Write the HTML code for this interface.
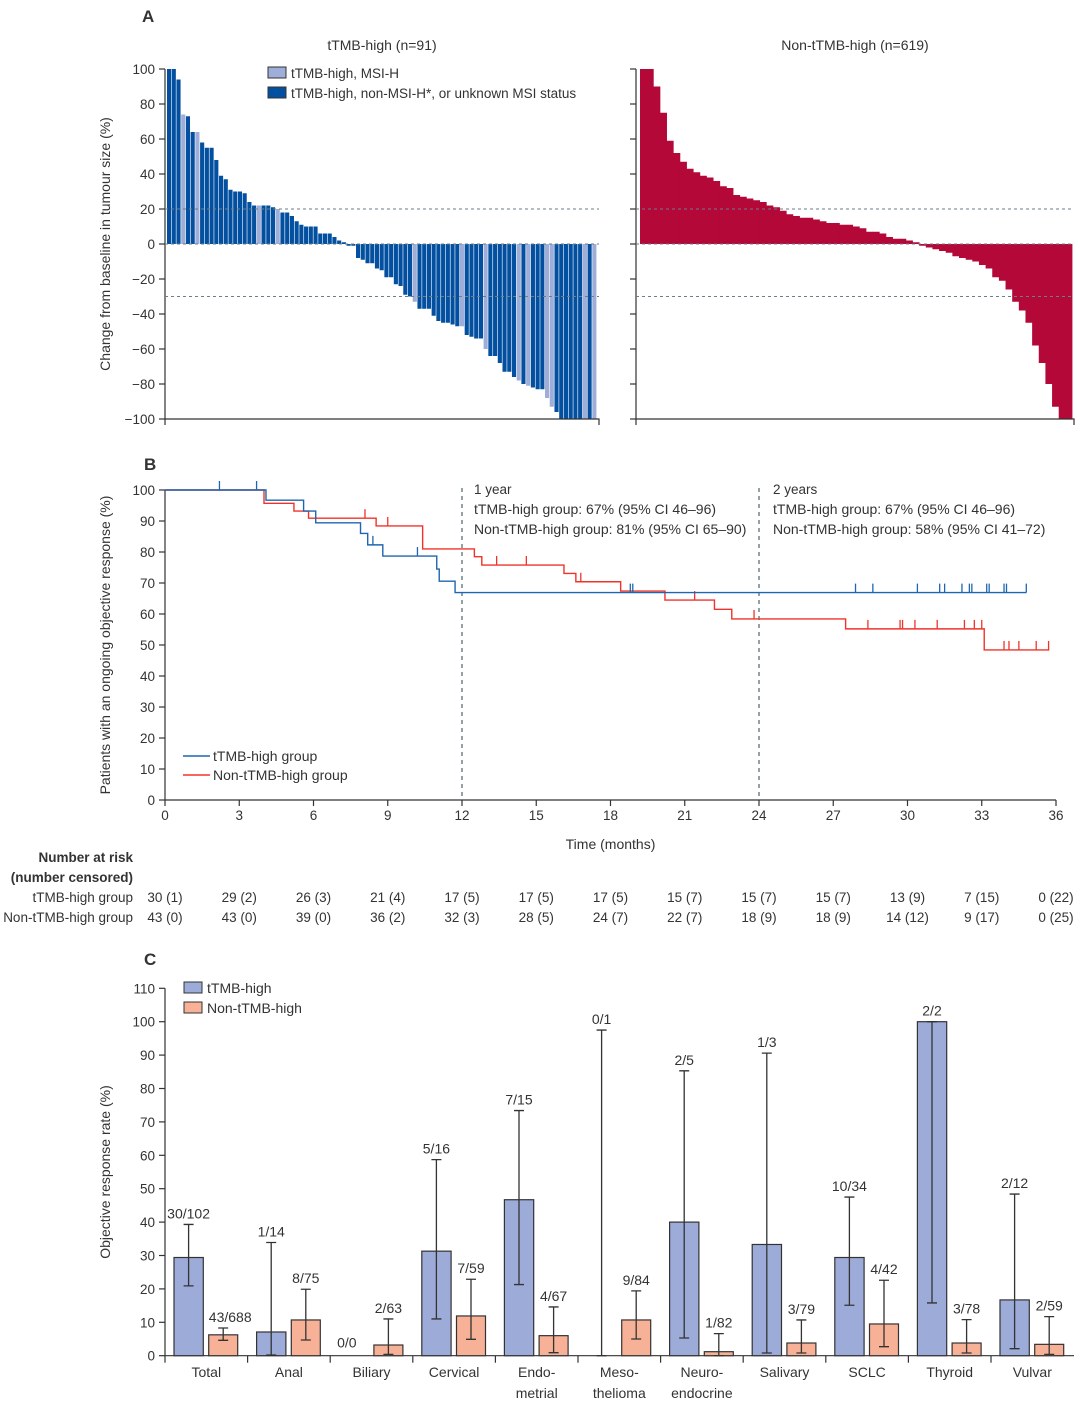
<!DOCTYPE html>
<html><head><meta charset="utf-8"><style>
body{margin:0;background:#fff}
svg{display:block;font-family:"Liberation Sans",sans-serif}
text{fill:#333}
</style></head><body>
<svg id="s" width="1080" height="1407" viewBox="0 0 1080 1407" xmlns="http://www.w3.org/2000/svg">
<g id="gA"></g>
<g id="gB"></g>
<g id="gC"></g>
</svg>
<script>
// ---------- Panel A data ----------
const tmbValues=[100,100,94,74,73,64,64,58,55,55,48,39,37,31,30,30,29,24,22,22,22,22,21,20,18,18,16,13,11,10,10,10,6,6,6,4,2,1,-1,-1,-8,-9,-11,-11,-14,-15,-19,-19,-23,-24,-29,-30,-33,-37,-37,-37,-41,-44,-45,-45,-46,-47,-47,-52,-53,-54,-54,-60,-64,-64,-68,-73,-73,-76,-78,-80,-81,-82,-83,-83,-88,-93,-96,-100,-100,-100,-100,-100,-100,-100,-100];
const tmbMsiH=[0,0,0,1,0,0,1,0,0,0,0,0,0,0,0,0,0,0,0,1,0,0,0,1,0,0,0,0,0,0,0,0,0,0,0,0,0,0,0,0,0,0,0,0,0,0,0,0,0,0,0,0,1,0,0,0,0,0,0,0,0,0,1,0,0,0,0,1,0,0,0,0,0,0,1,0,1,0,0,0,1,1,0,0,0,0,0,0,1,0,1];
const nonTmbValues=[100,100,90,75,59,52,47,43,41,39,38,36,33,32,28,27,26,25,24,22,21,19,17,16,15,15,14,13,12,12,11,11,10,9,7,7,6,4,3,3,2,1,-1,-2,-3,-4,-5,-7,-8,-9,-10,-12,-14,-19,-21,-26,-33,-38,-45,-58,-68,-80,-93,-100,-100];
const aTicks=[100,80,60,40,20,0,-20,-40,-60,-80,-100];
// ---------- Panel B data ----------
const kmMonthTicks=[0,3,6,9,12,15,18,21,24,27,30,33,36];
const kmPctTicks=[0,10,20,30,40,50,60,70,80,90,100];
const blueTimes=[0,4.08,5.6,6.09,7.9,8.19,8.8,10.98,11.08,11.72,34.8];
const blueSurv=[100,96.7,93.2,89.4,86,82.3,78.7,74.5,70.6,66.9,66.9];
const blueCens=[2.2,3.7,8.4,10.2,18.8,18.9,27.9,28.6,30.4,31.3,31.5,32.2,32.5,32.6,33.2,33.3,33.9,34.0,34.8];
const redTimes=[0,4.0,5.21,5.8,8.53,10.41,12.5,12.8,16.12,16.6,18.41,20.2,22.2,22.9,27.5,33.1,35.73];
const redSurv=[100,95.7,93.2,90.9,88.4,81,78.5,75.8,73.1,70.4,67.4,64.5,61.5,58.4,55.2,48.4,48.4];
const redCens=[8.08,9.0,13.4,14.6,16.8,21.4,23.8,28.4,29.7,29.8,30.3,31.2,32.3,32.7,33.0,33.9,34.1,34.5,35.2,35.7];
const riskTmb=["30 (1)","29 (2)","26 (3)","21 (4)","17 (5)","17 (5)","17 (5)","15 (7)","15 (7)","15 (7)","13 (9)","7 (15)","0 (22)"];
const riskNon=["43 (0)","43 (0)","39 (0)","36 (2)","32 (3)","28 (5)","24 (7)","22 (7)","18 (9)","18 (9)","14 (12)","9 (17)","0 (25)"];
// ---------- Panel C data ----------
const cats=[["Total"],["Anal"],["Biliary"],["Cervical"],["Endo-","metrial"],["Meso-","thelioma"],["Neuro-","endocrine"],["Salivary"],["SCLC"],["Thyroid"],["Vulvar"]];
const blueRate=[29.4,7.1,0,31.3,46.7,0,40,33.3,29.4,100,16.7];
const blueLo=[20.9,0.2,null,11.0,21.3,0,5.3,0.8,15.1,15.8,2.1];
const blueHi=[39.3,33.9,null,58.7,73.4,97.5,85.3,90.6,47.5,100,48.4];
const blueLbl=["30/102","1/14","0/0","5/16","7/15","0/1","2/5","1/3","10/34","2/2","2/12"];
const orRate=[6.25,10.7,3.2,11.9,6.0,10.7,1.2,3.8,9.5,3.8,3.4];
const orLo=[4.6,4.7,0.4,4.9,0.9,5.0,0.03,0.8,2.7,0.8,0.4];
const orHi=[8.3,19.9,11.0,22.9,14.6,19.4,6.6,10.7,22.6,10.8,11.7];
const orLbl=["43/688","8/75","2/63","7/59","4/67","9/84","1/82","3/79","4/42","3/78","2/59"];
const cTicks=[0,10,20,30,40,50,60,70,80,90,100,110];

const NS="http://www.w3.org/2000/svg";
function mk(p,tag,at,txt){const e=document.createElementNS(NS,tag);for(const k in at)e.setAttribute(k,at[k]);if(txt!==undefined)e.textContent=txt;p.appendChild(e);return e;}
const gA=document.getElementById('gA'),gB=document.getElementById('gB'),gC=document.getElementById('gC');

// ===== Panel A =====
const yA=v=>244-1.75*v;
let t;
t=mk(gA,'text',{x:142,y:22,'font-size':17,'font-weight':'bold'},'A');


t=mk(gA,'text',{x:382,y:50,'font-size':14,'text-anchor':'middle'},'tTMB-high (n=91)');


t=mk(gA,'text',{x:855,y:50,'font-size':14,'text-anchor':'middle'},'Non-tTMB-high (n=619)');


t=mk(gA,'text',{x:0,y:0,'font-size':14,'text-anchor':'middle',transform:'translate(110,244) rotate(-90)'},'Change from baseline in tumour size (%)');


const lx0=167,lw=430/tmbValues.length;
tmbValues.forEach((v,i)=>{
  const r=mk(gA,'rect',{x:lx0+i*lw,y:Math.min(yA(v),yA(0)),width:lw-0.6,height:Math.abs(yA(v)-yA(0)),fill:tmbMsiH[i]?'#9eaed8':'#0450a0'});
  
  
});
const rx0=640,rw=432/nonTmbValues.length;
nonTmbValues.forEach((v,i)=>{
  const r=mk(gA,'rect',{x:rx0+i*rw,y:Math.min(yA(v),yA(0)),width:rw+0.4,height:Math.abs(yA(v)-yA(0)),fill:'#b30838'});
  
  
});
[[165,599],[636,1074]].forEach(([ax,ex],k)=>{
  const l=mk(gA,'path',{d:`M${ax},${yA(100)}V${yA(-100)}H${ex}v6M${ax},${yA(-100)}v6`,stroke:'#333','stroke-width':1.2,fill:'none'});
  
  
  aTicks.forEach(v=>{
    const tk=mk(gA,'line',{x1:ax-6,x2:ax,y1:yA(v),y2:yA(v),stroke:'#333','stroke-width':1.2});
    
    
    if(k===0){const tl=mk(gA,'text',{x:155,y:yA(v)+5,'font-size':13.5,'text-anchor':'end'},v<0?'−'+(-v):String(v));
      
      }
  });
  [20,0,-30].forEach(v=>{
    const d=mk(gA,'line',{x1:ax,x2:ex,y1:yA(v),y2:yA(v),stroke:'#6a7f88','stroke-width':1,'stroke-dasharray':'3,3'});
    
    
  });
});
[['#9eaed8','tTMB-high, MSI-H',73],['#0450a0','tTMB-high, non-MSI-H*, or unknown MSI status',93]].forEach(([c,s,y])=>{
  const r=mk(gA,'rect',{x:268,y:y-6,width:18,height:11,fill:c,stroke:'#333','stroke-width':1});
  
  
  const tx=mk(gA,'text',{x:291,y:y+5,'font-size':13.5},s);
  
  
});

// ===== Panel B =====
const xB=m=>165+24.75*m, yB=v=>800-3.1*v;
t=mk(gB,'text',{x:144,y:470,'font-size':17,'font-weight':'bold'},'B');


t=mk(gB,'text',{x:0,y:0,'font-size':14,'text-anchor':'middle',transform:'translate(110,645) rotate(-90)'},'Patients with an ongoing objective response (%)');


let ax=mk(gB,'path',{d:`M${xB(0)},${yB(100)}V${yB(0)}H${xB(36)}`,stroke:'#333','stroke-width':1.2,fill:'none'});


kmPctTicks.forEach(v=>{
  const tk=mk(gB,'line',{x1:xB(0)-6,x2:xB(0),y1:yB(v),y2:yB(v),stroke:'#333','stroke-width':1.2});
  
  
  const tl=mk(gB,'text',{x:155,y:yB(v)+5,'font-size':13.5,'text-anchor':'end'},String(v));
  
  
});
kmMonthTicks.forEach((m,i)=>{
  const tk=mk(gB,'line',{x1:xB(m),x2:xB(m),y1:yB(0),y2:yB(0)+6,stroke:'#333','stroke-width':1.2});
  
  
  const tl=mk(gB,'text',{x:xB(m),y:820,'font-size':13.5,'text-anchor':'middle'},String(m));
  
  
  const r1=mk(gB,'text',{x:xB(m),y:902,'font-size':13.5,'text-anchor':'middle'},riskTmb[i]);
  
  
  const r2=mk(gB,'text',{x:xB(m),y:922,'font-size':13.5,'text-anchor':'middle'},riskNon[i]);
  
  
});
t=mk(gB,'text',{x:xB(18),y:849,'font-size':14,'text-anchor':'middle'},'Time (months)');


[['Number at risk',862,'bold'],['(number censored)',882,'bold'],['tTMB-high group',902,'normal'],['Non-tTMB-high group',922,'normal']].forEach(([s,y,w])=>{
  const tl=mk(gB,'text',{x:133,y:y,'font-size':13.5,'text-anchor':'end','font-weight':w},s);
  
  
});
[12,24].forEach(m=>{
  const d=mk(gB,'line',{x1:xB(m),x2:xB(m),y1:488,y2:yB(0),stroke:'#4a6470','stroke-width':1.2,'stroke-dasharray':'4,4'});
  
  
});
[[474,['1 year','tTMB-high group: 67% (95% CI 46–96)','Non-tTMB-high group: 81% (95% CI 65–90)']],[773,['2 years','tTMB-high group: 67% (95% CI 46–96)','Non-tTMB-high group: 58% (95% CI 41–72)']]].forEach(([x,ls])=>{
  ls.forEach((s,i)=>{const tl=mk(gB,'text',{x:x,y:494+i*20,'font-size':i?14:13.5},s);
    
    });
});
function km(times,surv,cens,col,name){
  let d=`M${xB(times[0])},${yB(surv[0])}`;
  for(let i=1;i<times.length;i++){d+=`H${xB(times[i])}V${yB(surv[i])}`;}
  const p=mk(gB,'path',{d:d,stroke:col,'stroke-width':1.4,fill:'none'});
  
  
  cens.forEach(c=>{
    let s=surv[0];for(let i=0;i<times.length;i++){if(times[i]<=c)s=surv[i];}
    const tk=mk(gB,'line',{x1:xB(c),x2:xB(c),y1:yB(s),y2:yB(s)-9,stroke:col,'stroke-width':1.3});
    
    
  });
}
km(redTimes,redSurv,redCens,'#f0332a','non-tmb-high');
km(blueTimes,blueSurv,blueCens,'#1f66b0','tmb-high');
[['#1f66b0','tTMB-high group',756],['#f0332a','Non-tTMB-high group',775]].forEach(([c,s,y])=>{
  const l=mk(gB,'line',{x1:183,x2:210,y1:y,y2:y,stroke:c,'stroke-width':1.4});
  
  
  const tl=mk(gB,'text',{x:213,y:y+5,'font-size':14},s);
  
  
});

// ===== Panel C =====
const yC=v=>1355.7-3.34*v, gx=i=>165+82.6*i;
t=mk(gC,'text',{x:144,y:965,'font-size':17,'font-weight':'bold'},'C');


t=mk(gC,'text',{x:0,y:0,'font-size':14,'text-anchor':'middle',transform:'translate(110,1172) rotate(-90)'},'Objective response rate (%)');


ax=mk(gC,'path',{d:`M165,${yC(110)}V${yC(0)}H1074`,stroke:'#333','stroke-width':1.2,fill:'none'});


cTicks.forEach(v=>{
  const tk=mk(gC,'line',{x1:159,x2:165,y1:yC(v),y2:yC(v),stroke:'#333','stroke-width':1.2});
  
  
  const tl=mk(gC,'text',{x:155,y:yC(v)+5,'font-size':13.5,'text-anchor':'end'},String(v));
  
  
});
function ebar(cx,lo,hi){
  const p=mk(gC,'path',{d:`M${cx},${yC(lo)}V${yC(hi)}M${cx-5},${yC(lo)}h10M${cx-5},${yC(hi)}h10`,stroke:'#333','stroke-width':1.3,fill:'none'});
  
  
}
cats.forEach((c,i)=>{
  const x0=gx(i);
  const tk=mk(gC,'line',{x1:x0,x2:x0,y1:yC(0),y2:yC(0)+7,stroke:'#333','stroke-width':1.2});
  
  
  c.forEach((s,j)=>{const tl=mk(gC,'text',{x:x0+41.3,y:1377+j*21,'font-size':14,'text-anchor':'middle'},s);
    
    });
  const bc=x0+23.6, oc=x0+58.2;
  if(blueRate[i]>0){const r=mk(gC,'rect',{x:x0+9,y:yC(blueRate[i]),width:29.3,height:yC(0)-yC(blueRate[i]),fill:'#9dabd8',stroke:'#333','stroke-width':1.2});
    
    }
  const r2=mk(gC,'rect',{x:x0+43.7,y:yC(orRate[i]),width:29,height:yC(0)-yC(orRate[i]),fill:'#f6b196',stroke:'#333','stroke-width':1.2});
  
  
  if(blueHi[i]!==null)ebar(bc,blueLo[i],blueHi[i]);
  ebar(oc,orLo[i],orHi[i]);
  const by=blueHi[i]===null?yC(0)-8:yC(blueHi[i])-6;
  const bl=mk(gC,'text',{x:bc-(i===2?7:0),y:by,'font-size':14,'text-anchor':'middle'},blueLbl[i]);
  
  
  const ol=mk(gC,'text',{x:oc+(i===0?7:0),y:yC(orHi[i])-6,'font-size':14,'text-anchor':'middle'},orLbl[i]);
  
  
});
[['#9dabd8','tTMB-high',988],['#f6b196','Non-tTMB-high',1008]].forEach(([c,s,y])=>{
  const r=mk(gC,'rect',{x:184,y:y-6,width:18,height:11,fill:c,stroke:'#333','stroke-width':1});
  
  
  const tl=mk(gC,'text',{x:207,y:y+5,'font-size':14},s);
  
  
});
</script>
</body></html>
